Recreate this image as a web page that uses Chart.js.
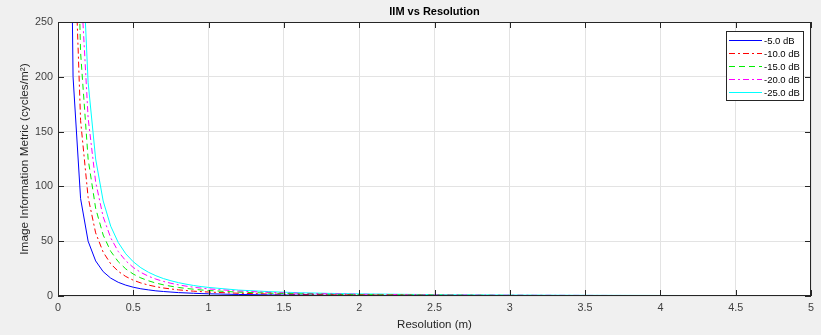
<!DOCTYPE html>
<html>
<head>
<meta charset="utf-8">
<script src="https://cdn.jsdelivr.net/npm/chart.js@4/dist/chart.umd.min.js"></script>
<style>
  html, body { margin: 0; padding: 0; background: #f0f0f0; }
  #wrap { width: 821px; height: 335px; }
</style>
</head>
<body>
<div id="wrap"><canvas id="iimChart" width="821" height="335"></canvas></div>
<script>
// resolution samples (m)
const resolution = [0.05, 0.1, 0.15, 0.2, 0.25, 0.3, 0.35, 0.4, 0.45, 0.5,
    0.55, 0.6, 0.65, 0.7, 0.75, 0.8, 0.85, 0.9, 0.95, 1.0,
    1.2, 1.4, 1.6, 1.8, 2.0, 2.5, 3.0, 3.5, 4.0, 4.5, 5.0];

// IIM values, one list per SNR level
const iim5 = [800, 200, 88.9, 50, 32, 22.2, 16.3, 12.5, 9.9, 8,
    6.6, 5.6, 4.7, 4.1, 3.6, 3.1, 2.8, 2.5, 2.2, 2,
    1.4, 1.0, 0.8, 0.6, 0.5, 0.3, 0.2, 0.16, 0.13, 0.1, 0.08];
const iim10 = [1440, 360, 160, 90, 57.6, 40, 29.4, 22.5, 17.8, 14.4,
    11.9, 10, 8.5, 7.3, 6.4, 5.6, 5.0, 4.4, 4.0, 3.6,
    2.5, 1.8, 1.4, 1.1, 0.9, 0.6, 0.4, 0.29, 0.23, 0.18, 0.14];
const iim15 = [2000, 500, 222, 125, 80, 55.6, 40.8, 31.3, 24.7, 20,
    16.5, 13.9, 11.8, 10.2, 8.9, 7.8, 6.9, 6.2, 5.5, 5,
    3.5, 2.6, 2.0, 1.5, 1.25, 0.8, 0.56, 0.41, 0.31, 0.25, 0.2];
const iim20 = [2600, 650, 289, 162.5, 104, 72.2, 53.1, 40.6, 32.1, 26,
    21.5, 18.1, 15.4, 13.3, 11.6, 10.2, 9.0, 8.0, 7.2, 6.5,
    4.5, 3.3, 2.5, 2.0, 1.6, 1.0, 0.72, 0.53, 0.41, 0.32, 0.26];
const iim25 = [3120, 780, 347, 195, 125, 86.7, 63.7, 48.8, 38.5, 31.2,
    25.8, 21.7, 18.5, 15.9, 13.9, 12.2, 10.8, 9.6, 8.6, 7.8,
    5.4, 4.0, 3.0, 2.4, 1.95, 1.25, 0.87, 0.64, 0.49, 0.39, 0.31];

const seriesLabels = ["-5.0 dB", "-10.0 dB", "-15.0 dB", "-20.0 dB", "-25.0 dB"];
const xTicks = [0, 0.5, 1, 1.5, 2, 2.5, 3, 3.5, 4, 4.5, 5];
const yTicks = [0, 50, 100, 150, 200, 250];

const seriesValues = [iim5, iim10, iim15, iim20, iim25];
const lineColors = ["#0000ff", "#ff0000", "#00ee00", "#ff00ff", "#00ffff"];
const lineDashes = [[], [6, 3, 2, 3], [6, 4], [6, 3, 2, 3], []];

const FONT = "Arial, 'Liberation Sans', Helvetica, sans-serif";
const AXIS_COLOR = "#262626";

function buildDatasets() {
    var dataSetValues = [];
    for (var i = 0; i < seriesValues.length; i++) {
        dataSetValues.push({
            label: seriesLabels[i],
            data: resolution.map((x, k) => ({ x: x, y: seriesValues[i][k] })),
            borderColor: lineColors[i],
            borderDash: lineDashes[i],
            borderWidth: 1,
            pointRadius: 0,
            fill: false,
            tension: 0
        });
    }
    return dataSetValues;
}

// white plot area, axes box with inward ticks, title and boxed legend
const matlabLook = {
    id: "matlabLook",
    beforeDraw(chart) {
        const a = chart.chartArea;
        const ctx = chart.ctx;
        ctx.save();
        ctx.fillStyle = "#ffffff";
        ctx.fillRect(a.left, a.top, a.right - a.left, a.bottom - a.top);
        ctx.restore();
    },
    afterDraw(chart) {
        const a = chart.chartArea;
        const ctx = chart.ctx;
        const xs = chart.scales.x, ys = chart.scales.y;
        ctx.save();
        ctx.strokeStyle = AXIS_COLOR;
        ctx.lineWidth = 1;
        ctx.setLineDash([]);
        ctx.strokeRect(a.left + 0.5, a.top + 0.5, a.right - a.left - 1, a.bottom - a.top - 1);
        ctx.beginPath();
        xTicks.forEach(v => {
            const px = Math.round(xs.getPixelForValue(v)) + 0.5;
            ctx.moveTo(px, a.bottom); ctx.lineTo(px, a.bottom - 6);
            ctx.moveTo(px, a.top); ctx.lineTo(px, a.top + 6);
        });
        yTicks.forEach(v => {
            const py = Math.round(ys.getPixelForValue(v)) + 0.5;
            ctx.moveTo(a.left, py); ctx.lineTo(a.left + 6, py);
            ctx.moveTo(a.right, py); ctx.lineTo(a.right - 6, py);
        });
        ctx.stroke();

        // title
        ctx.fillStyle = "#000000";
        ctx.font = "bold 11px " + FONT;
        ctx.textAlign = "center";
        ctx.textBaseline = "middle";
        ctx.fillText("IIM vs Resolution", (a.left + a.right) / 2, 12);

        // legend
        const lx = 726, ly = 31, lw = 77, lh = 69;
        ctx.fillStyle = "#ffffff";
        ctx.fillRect(lx, ly, lw, lh);
        ctx.strokeStyle = AXIS_COLOR;
        ctx.strokeRect(lx + 0.5, ly + 0.5, lw, lh);
        ctx.font = "9.5px " + FONT;
        ctx.textAlign = "left";
        for (var i = 0; i < seriesLabels.length; i++) {
            const rowY = 40 + i * 13;
            ctx.save();
            ctx.beginPath();
            ctx.lineWidth = 1.2;
            ctx.strokeStyle = lineColors[i];
            ctx.setLineDash(lineDashes[i]);
            ctx.moveTo(729, rowY + 0.5);
            ctx.lineTo(762, rowY + 0.5);
            ctx.stroke();
            ctx.restore();
            ctx.fillStyle = "#000000";
            ctx.fillText(seriesLabels[i], 764, rowY + 1);
        }
        ctx.restore();
    }
};

const chartOptions = {
    responsive: false,
    animation: false,
    layout: { padding: { left: 0, right: 10, top: 22, bottom: 0 } },
    plugins: {
        legend: { display: false },
        title: { display: false },
        tooltip: { enabled: false }
    },
    scales: {
        x: {
            type: "linear",
            min: 0,
            max: 5,
            afterBuildTicks: scale => { scale.ticks = xTicks.map(v => ({ value: v })); },
            afterFit: scale => { scale.height = 39; },
            grid: { color: "#e3e3e3", drawTicks: false },
            border: { display: false },
            ticks: {
                color: "#404040", padding: 6, maxRotation: 0,
                font: { family: FONT, size: 10.8 },
                callback: v => String(v)
            },
            title: {
                display: true,
                text: "Resolution (m)",
                color: "#262626",
                padding: { top: 0, bottom: 3 },
                font: { family: FONT, size: 11.5 }
            }
        },
        y: {
            type: "linear",
            min: 0,
            max: 250,
            afterBuildTicks: scale => { scale.ticks = yTicks.map(v => ({ value: v })); },
            afterFit: scale => { scale.width = 58; },
            grid: { color: "#e3e3e3", drawTicks: false },
            border: { display: false },
            ticks: {
                color: "#404040", padding: 5,
                font: { family: FONT, size: 10.8 },
                callback: v => String(v)
            },
            title: {
                display: true,
                text: "Image Information Metric (cycles/m\u00b2)",
                color: "#262626",
                padding: { top: 18, bottom: 0 },
                font: { family: FONT, size: 11.8 }
            }
        }
    }
};

const ctx = document.getElementById("iimChart").getContext("2d");
const chartObject = new Chart(ctx, {
    type: "line",
    data: { datasets: buildDatasets() },
    options: chartOptions,
    plugins: [matlabLook]
});
</script>
</body>
</html>
